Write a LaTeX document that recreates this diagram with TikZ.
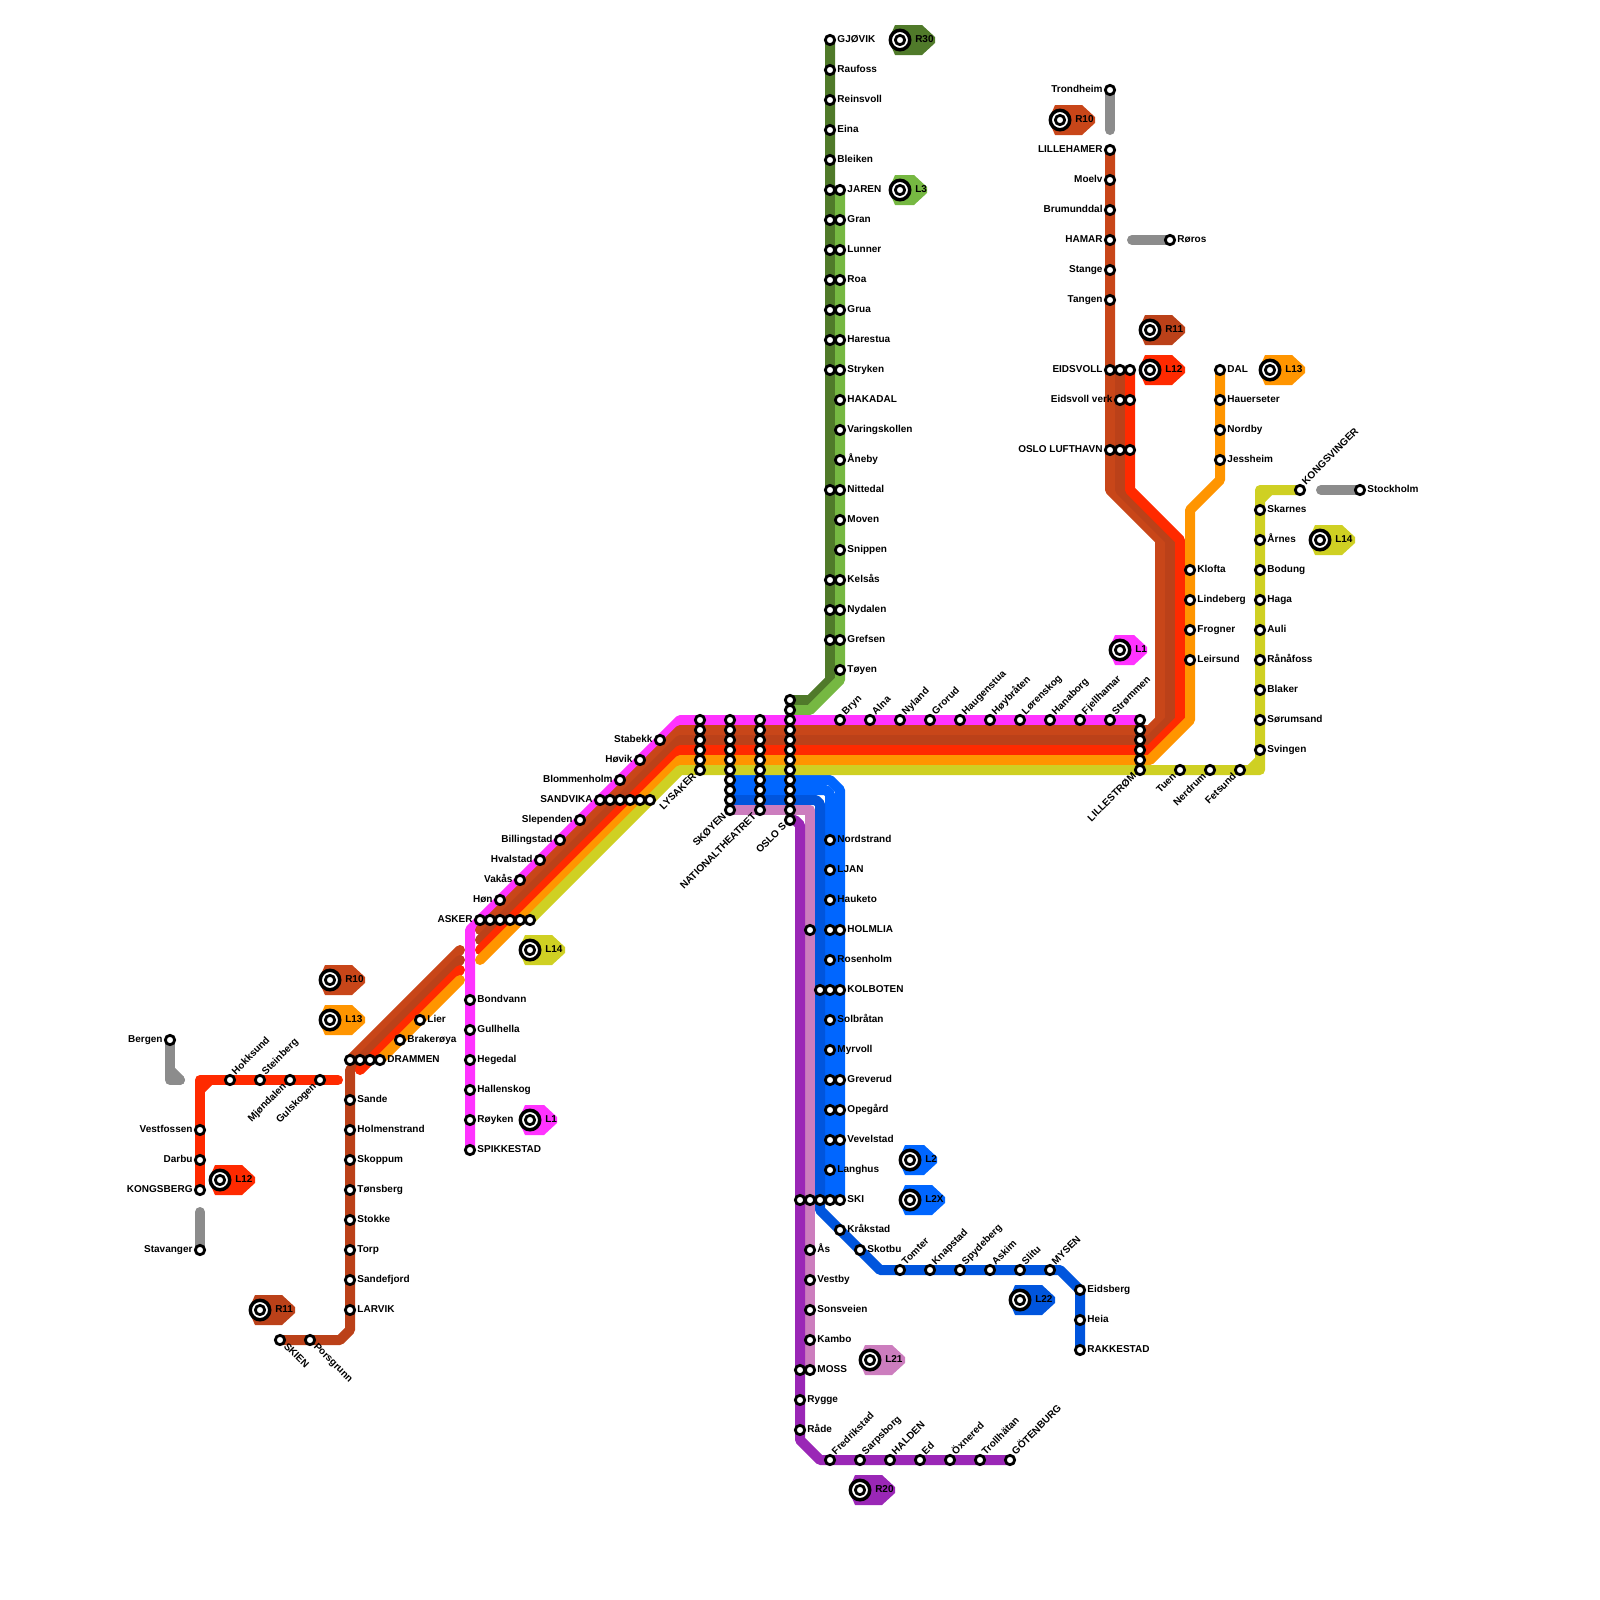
\documentclass[tikz,border=0pt]{standalone}
\usepackage{fontspec}
\setmainfont{Liberation Sans}
\usetikzlibrary{backgrounds}

\definecolor{lineLone}{RGB}{255,51,255}
\definecolor{lineRten}{RGB}{200,70,25}
\definecolor{lineReleven}{RGB}{187,65,25}
\definecolor{lineLtwelve}{RGB}{255,42,0}
\definecolor{lineLthirteen}{RGB}{255,149,0}
\definecolor{lineLfourteen}{RGB}{207,208,35}
\definecolor{lineRthirty}{RGB}{80,122,42}
\definecolor{lineLthree}{RGB}{118,184,66}
\definecolor{lineLtwo}{RGB}{0,102,255}
\definecolor{lineLtwentytwo}{RGB}{0,85,221}
\definecolor{lineLtwentyone}{RGB}{204,125,190}
\definecolor{lineRtwenty}{RGB}{154,39,182}
\definecolor{lineGrey}{RGB}{140,140,140}

\tikzset{
  stn/.style={circle, draw=black, fill=white, line width=2.1pt, minimum size=7pt, inner sep=0pt},
  ring/.style={circle, draw=black, fill=white, line width=2.6pt, minimum size=14.6pt, inner sep=0pt},
  lbl/.style={font=\bfseries\fontsize{7.5}{9}\selectfont, inner sep=0pt, text=black},
  rail/.style={line width=7.5pt, line cap=round, line join=round},
}

\begin{document}
\begin{tikzpicture}[x=0.75pt, y=-0.75pt]
  \useasboundingbox (0,0) rectangle (1600,1600);

  % ---- stations, label on the right ----
  \foreach \n/\x/\y/\lb in {%
    gjovik/830/40/GJØVIK, raufoss/830/70/Raufoss, reinsvoll/830/100/Reinsvoll, eina/830/130/Eina, bleiken/830/160/Bleiken,%
    jaren/840/190/JAREN, gran/840/220/Gran, lunner/840/250/Lunner, roa/840/280/Roa, grua/840/310/Grua,%
    harestua/840/340/Harestua, stryken/840/370/Stryken, hakadal/840/400/HAKADAL, varingskollen/840/430/Varingskollen,%
    aneby/840/460/Åneby, nittedal/840/490/Nittedal, moven/840/520/Moven, snippen/840/550/Snippen, kelsas/840/580/Kelsås,%
    nydalen/840/610/Nydalen, grefsen/840/640/Grefsen, toyen/840/670/Tøyen,%
    nordstrand/830/840/Nordstrand, ljan/830/870/LJAN, hauketo/830/900/Hauketo, holmlia/840/930/HOLMLIA,%
    rosenholm/830/960/Rosenholm, kolboten/840/990/KOLBOTEN, solbratan/830/1020/Solbråtan, myrvoll/830/1050/Myrvoll,%
    greverud/840/1080/Greverud, opegard/840/1110/Opegård, vevelstad/840/1140/Vevelstad, langhus/830/1170/Langhus,%
    ski/840/1200/SKI, krakstad/840/1230/Kråkstad, skotbu/860/1250/Skotbu,%
    as/810/1250/Ås, vestby/810/1280/Vestby, sonsveien/810/1310/Sonsveien, kambo/810/1340/Kambo, moss/810/1370/MOSS,%
    rygge/800/1400/Rygge, rade/800/1430/Råde,%
    eidsberg/1080/1290/Eidsberg, heia/1080/1320/Heia, rakkestad/1080/1350/RAKKESTAD,%
    bondvann/470/1000/Bondvann, gullhella/470/1030/Gullhella, hegedal/470/1060/Hegedal, hallenskog/470/1090/Hallenskog,%
    royken/470/1120/Røyken, spikkestad/470/1150/SPIKKESTAD,%
    lier/420/1020/Lier, brakeroya/400/1040/Brakerøya, drammen/380/1060/DRAMMEN,%
    sande/350/1100/Sande, holmenstrand/350/1130/Holmenstrand, skoppum/350/1160/Skoppum, tonsberg/350/1190/Tønsberg,%
    stokke/350/1220/Stokke, torp/350/1250/Torp, sandefjord/350/1280/Sandefjord, larvik/350/1310/LARVIK,%
    roros/1170/240/Røros, dal/1220/370/DAL, hauerseter/1220/400/Hauerseter, nordby/1220/430/Nordby, jessheim/1220/460/Jessheim,%
    klofta/1190/570/Klofta, lindeberg/1190/600/Lindeberg, frogner/1190/630/Frogner, leirsund/1190/660/Leirsund,%
    skarnes/1260/510/Skarnes, arnes/1260/540/Årnes, bodung/1260/570/Bodung, haga/1260/600/Haga, auli/1260/630/Auli,%
    ranafoss/1260/660/Rånåfoss, blaker/1260/690/Blaker, sorumsand/1260/720/Sørumsand, svingen/1260/750/Svingen,%
    stockholm/1360/490/Stockholm}{%
    \node[stn] (\n) at (\x,\y) {};
    \node[lbl, anchor=base west] (\n-t) at (\x+7.2,\y+2.7) {\lb};
  }

  % ---- stations, label on the left ----
  \foreach \n/\x/\y/\lb in {%
    trondheim/1110/90/Trondheim, lillehamer/1110/150/LILLEHAMER, moelv/1110/180/Moelv, brumunddal/1110/210/Brumunddal,%
    hamar/1110/240/HAMAR, stange/1110/270/Stange, tangen/1110/300/Tangen, eidsvoll/1110/370/EIDSVOLL,%
    eidsvollverk/1120/400/Eidsvoll verk, lufthavn/1110/450/OSLO LUFTHAVN,%
    stabekk/660/740/Stabekk, hovik/640/760/Høvik, blommenholm/620/780/Blommenholm, sandvika/600/800/SANDVIKA,%
    slependen/580/820/Slependen, billingstad/560/840/Billingstad, hvalstad/540/860/Hvalstad, vakas/520/880/Vakås,%
    hon/500/900/Høn, asker/480/920/ASKER,%
    bergen/170/1040/Bergen, vestfossen/200/1130/Vestfossen, darbu/200/1160/Darbu, kongsberg/200/1190/KONGSBERG,%
    stavanger/200/1250/Stavanger}{%
    \node[stn] (\n) at (\x,\y) {};
    \node[lbl, anchor=base east] (\n-t) at (\x-7.2,\y+2.7) {\lb};
  }

  % ---- stations, label rising to the right ----
  \foreach \n/\x/\y/\lb in {%
    hokksund/230/1080/Hokksund, steinberg/260/1080/Steinberg,%
    bryn/840/720/Bryn, alna/870/720/Alna, nyland/900/720/Nyland, grorud/930/720/Grorud, haugenstua/960/720/Haugenstua,%
    hoybraten/990/720/Høybråten, lorenskog/1020/720/Lørenskog, hanaborg/1050/720/Hanaborg, fjellhamar/1080/720/Fjellhamar,%
    strommen/1110/720/Strømmen, kongsvinger/1300/490/KONGSVINGER,%
    tomter/900/1270/Tomter, knapstad/930/1270/Knapstad, spydeberg/960/1270/Spydeberg, askim/990/1270/Askim,%
    slitu/1020/1270/Slitu, mysen/1050/1270/MYSEN,%
    fredrikstad/830/1460/Fredrikstad, sarpsborg/860/1460/Sarpsborg, halden/890/1460/HALDEN, ed/920/1460/Ed,%
    oxnered/950/1460/Öxnered, trollhatan/980/1460/Trollhätan, gotenburg/1010/1460/GÖTENBURG}{%
    \node[stn] (\n) at (\x,\y) {};
    \node[lbl, anchor=base west, rotate=45] (\n-t) at (\x+5.8,\y-4.7) {\lb};
  }

  % ---- stations, label falling to the left ----
  \foreach \n/\x/\y/\lb in {%
    mjondalen/290/1080/Mjøndalen, gulskogen/320/1080/Gulskogen, lysaker/700/770/LYSAKER, skoyen/730/810/SKØYEN,%
    nationaltheatret/760/810/NATIONALTHEATRET, oslos/790/820/OSLO S, lillestrom/1140/770/LILLESTRØM,%
    tuen/1180/770/Tuen, nerdrum/1210/770/Nerdrum, fetsund/1240/770/Fetsund}{%
    \node[stn] (\n) at (\x,\y) {};
    \node[lbl, anchor=base east, rotate=45] (\n-t) at (\x-3.1,\y+6.9) {\lb};
  }

  % ---- stations, label falling to the right ----
  \foreach \n/\x/\y/\lb in {skien/280/1340/SKIEN, porsgrunn/310/1340/Porsgrunn}{%
    \node[stn] (\n) at (\x,\y) {};
    \node[lbl, anchor=base west, rotate=-45] (\n-t) at (\x+3.1,\y+6.9) {\lb};
  }

  % ---- stations of the shared columns and rows ----
  \foreach \y in {720,730,...,760} \node[stn] (lysaker-\y) at (700,\y) {};
  \foreach \y in {720,730,...,800} \node[stn] (skoyen-\y) at (730,\y) {};
  \foreach \y in {720,730,...,800} \node[stn] (national-\y) at (760,\y) {};
  \foreach \y in {700,710,...,810} \node[stn] (oslos-\y) at (790,\y) {};
  \foreach \y in {720,730,...,760} \node[stn] (lillestrom-\y) at (1140,\y) {};
  \foreach \x in {610,620,...,650} \node[stn] (sandvika-\x) at (\x,800) {};
  \foreach \x in {490,500,...,530} \node[stn] (asker-\x) at (\x,920) {};
  \foreach \x in {350,360,370} \node[stn] (drammen-\x) at (\x,1060) {};
  \foreach \x in {800,810,820,830} \node[stn] (ski-\x) at (\x,1200) {};
  \foreach \x in {820,830} \node[stn] (kolboten-\x) at (\x,990) {};
  \foreach \n/\x/\y in {%
    jaren-a/830/190, gran-a/830/220, lunner-a/830/250, roa-a/830/280, grua-a/830/310, harestua-a/830/340, stryken-a/830/370,%
    nittedal-a/830/490, kelsas-a/830/580, nydalen-a/830/610, grefsen-a/830/640,%
    holmlia-a/810/930, holmlia-b/830/930, greverud-a/830/1080, opegard-a/830/1110, vevelstad-a/830/1140, moss-a/800/1370,%
    eidsvoll-a/1120/370, eidsvoll-b/1130/370, eidsvollverk-a/1130/400, lufthavn-a/1120/450, lufthavn-b/1130/450}{%
    \node[stn] (\n) at (\x,\y) {};
  }

  % ---- bends of the lines ----
  \foreach \n/\x/\y in {%
    rten-a/1110/490, rten-b/1160/540, rten-c/1160/720, rten-d/1150/730, rten-e/680/730, rten-f/480/930, rten-g/460/950,%
    relev-a/1120/490, relev-b/1170/540, relev-c/1170/720, relev-d/1150/740, relev-e/680/740, relev-f/480/940, relev-g/460/960,%
    relev-h/350/1070, relev-i/350/1330, relev-j/340/1340,%
    ltw-a/1130/490, ltw-b/1180/540, ltw-c/1180/720, ltw-d/1150/750, ltw-e/680/750, ltw-f/480/950, ltw-g/460/970, ltw-h/360/1070,%
    ltw-i/200/1080, ltw-j/338/1080, ltw-k/200/1090, ltw-l/210/1080,%
    lth-a/1220/480, lth-b/1190/510, lth-c/1190/720, lth-d/1150/760, lth-e/680/760, lth-f/480/960, lth-g/460/980,%
    lfo-a/1260/490, lfo-b/1260/770, lfo-c/680/770, lfo-d/1270/490, lfo-e/1260/500, lfo-f/1260/760, lfo-g/1250/770,%
    lone-a/470/930, lone-b/680/720,%
    rth-a/830/680, rth-b/810/700, lthr-a/840/680, lthr-b/810/710,%
    ltwo-a/830/780, ltwo-b/840/790, ltx-a/826/790, ltx-b/830/794,%
    ltt-a/816/800, ltt-b/820/804, ltt-e/820/1210, ltt-c/880/1270, ltt-d/1060/1270, lto-a/810/810,%
    rtw-a/795/820, rtw-b/800/825, rtw-c/800/1440, rtw-d/820/1460,%
    gr-a/1110/130, gr-b/1132/240, gr-c/200/1212, gr-d/1321/490, gr-e/170/1080, gr-f/180/1080, gr-g/170/1070}{%
    \coordinate (\n) at (\x,\y);
  }

  \begin{scope}[on background layer]
    % ---- grey connections ----
    \draw[rail, lineGrey] (trondheim.center) -- (gr-a);
    \draw[rail, lineGrey] (roros.center) -- (gr-b);
    \draw[rail, lineGrey] (stavanger.center) -- (gr-c);
    \draw[rail, lineGrey] (stockholm.center) -- (gr-d);
    \draw[rail, lineGrey] (bergen.center) -- (gr-e) -- (gr-f);
    \draw[rail, lineGrey] (gr-g) -- (gr-f);

    % ---- north lines ----
    \draw[rail, lineRthirty] (gjovik.center) -- (rth-a) -- (rth-b) -- (oslos-700.center);
    \draw[rail, lineLthree] (jaren.center) -- (lthr-a) -- (lthr-b) -- (oslos-710.center);

    % ---- south lines ----
    \draw[rail, lineLtwo] (skoyen-780.center) -- (ltwo-a) -- (ltwo-b) -- (ski.center);
    \draw[rail, lineLtwo] (skoyen-790.center) -- (ltx-a) -- (ltx-b) -- (ski-830.center);
    \draw[rail, lineLtwentytwo] (skoyen-800.center) -- (ltt-a) -- (ltt-b) -- (ltt-e) -- (ltt-c) -- (ltt-d) -- (eidsberg.center) -- (rakkestad.center);
    \draw[rail, lineLtwentyone] (skoyen.center) -- (lto-a) -- (moss.center);
    \draw[rail, lineRtwenty] (oslos.center) -- (rtw-a) -- (rtw-b) -- (rtw-c) -- (rtw-d) -- (gotenburg.center);

    % ---- trunk lines ----
    \draw[rail, lineLone] (spikkestad.center) -- (lone-a) -- (asker.center) -- (lone-b) -- (lillestrom-720.center);
    \draw[rail, lineRten] (lillehamer.center) -- (rten-a) -- (rten-b) -- (rten-c) -- (rten-d) -- (rten-e) -- (rten-f);
    \draw[rail, lineRten] (rten-g) -- (drammen-350.center);
    \draw[rail, lineReleven] (eidsvoll-a.center) -- (relev-a) -- (relev-b) -- (relev-c) -- (relev-d) -- (relev-e) -- (relev-f);
    \draw[rail, lineReleven] (relev-g) -- (drammen-360.center) -- (relev-h) -- (relev-i) -- (relev-j) -- (skien.center);
    \draw[rail, lineLtwelve] (eidsvoll-b.center) -- (ltw-a) -- (ltw-b) -- (ltw-c) -- (ltw-d) -- (ltw-e) -- (ltw-f);
    \draw[rail, lineLtwelve] (ltw-g) -- (ltw-h);
    \draw[rail, lineLtwelve] (kongsberg.center) -- (ltw-i) -- (ltw-j);
    \draw[rail, lineLtwelve] (ltw-k) -- (ltw-l);
    \draw[rail, lineLthirteen] (dal.center) -- (lth-a) -- (lth-b) -- (lth-c) -- (lth-d) -- (lth-e) -- (lth-f);
    \draw[rail, lineLthirteen] (lth-g) -- (drammen.center);
    \draw[rail, lineLfourteen] (kongsvinger.center) -- (lfo-a) -- (lfo-b) -- (lfo-c) -- (asker-530.center);
    \draw[rail, lineLfourteen] (lfo-d) -- (lfo-e);
    \draw[rail, lineLfourteen] (lfo-f) -- (lfo-g);
  \end{scope}

  % ---- line badges ----
  \foreach \n/\x/\y/\col/\w/\lb in {%
    brthirty/900/40/lineRthirty/35/R30, blthree/900/190/lineLthree/27/L3,%
    brtena/1060/120/lineRten/35/R10, brtenb/330/980/lineRten/35/R10,%
    brelevena/1150/330/lineReleven/35/R11, brelevenb/260/1310/lineReleven/35/R11,%
    bltwelvea/1150/370/lineLtwelve/35/L12, bltwelveb/220/1180/lineLtwelve/35/L12,%
    blthirteena/1270/370/lineLthirteen/35/L13, blthirteenb/330/1020/lineLthirteen/35/L13,%
    blfourteena/1320/540/lineLfourteen/35/L14, blfourteenb/530/950/lineLfourteen/35/L14,%
    blonea/1120/650/lineLone/27/L1, bloneb/530/1120/lineLone/27/L1,%
    bltwo/910/1160/lineLtwo/27/L2, bltwox/910/1200/lineLtwo/35/L2X,%
    bltwentytwo/1020/1300/lineLtwentytwo/35/L22, bltwentyone/870/1360/lineLtwentyone/35/L21,%
    brtwenty/860/1490/lineRtwenty/35/R20}{%
    \fill[\col] (\x-5,\y-15) -- (\x+\w-13,\y-15) -- (\x+\w,\y-3) -- (\x+\w,\y+3) -- (\x+\w-13,\y+15) -- (\x-5,\y+15) -- (\x-8,\y+8) -- (\x-8,\y-8) -- cycle;
    \node[ring] (\n) at (\x,\y) {};
    \node[stn] (\n-s) at (\x,\y) {};
    \node[lbl, anchor=base west] (\n-t) at (\x+15,\y+2.7) {\lb};
  }
\end{tikzpicture}
\end{document}
